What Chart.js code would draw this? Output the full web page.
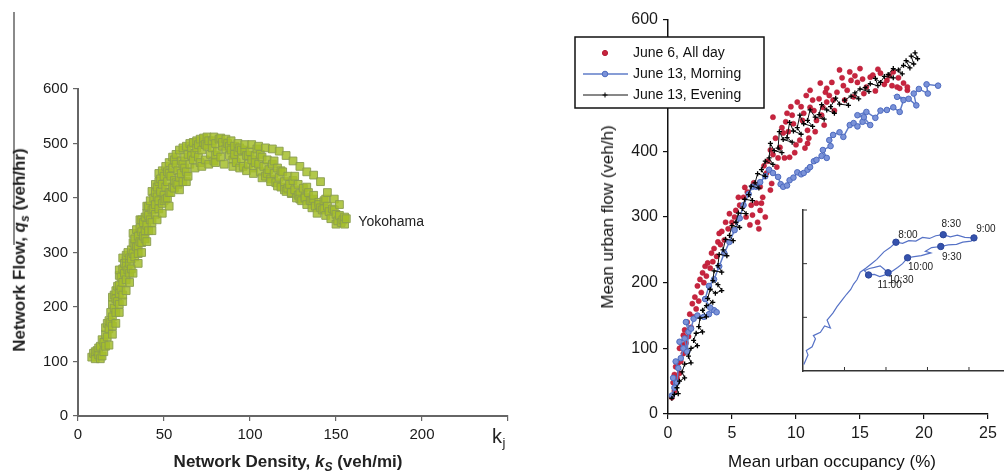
<!DOCTYPE html>
<html>
<head>
<meta charset="utf-8">
<script src="https://cdn.jsdelivr.net/npm/chart.js@4"></script>
<style>
  body { margin: 0; background: #fff; }
  #page { position: relative; width: 1008px; height: 475px; overflow: hidden;
          font-family: "Liberation Sans", Arial, sans-serif; color: #222; }
  canvas { position: absolute; }
  .ttl { position: absolute; white-space: nowrap; transform: translate(-50%, -50%); }
  .rot { transform: translate(-50%, -50%) rotate(-90deg); }
  .bold { font-weight: bold; font-size: 17px; }
  .plain { font-size: 17px; color: #111; }
  sub { font-size: 12px; }
  .edge { position: absolute; left: 13px; top: 12px; width: 2px; height: 233px; background: #8a8a8a; }
</style>
</head>
<body>
<div id="page">
  <div class="edge"></div>
  <canvas id="left" width="560" height="475" style="left:0;top:0"></canvas>
  <canvas id="right" width="448" height="475" style="left:560px;top:0"></canvas>
  <canvas id="inset" width="228" height="200" style="left:780px;top:190px"></canvas>

  <div class="ttl rot bold" style="left:21px;top:250px">Network Flow, <i>q</i><sub><i>s</i></sub> (veh/hr)</div>
  <div class="ttl bold" style="left:288px;top:463px">Network Density, <i>k</i><sub><i>S</i></sub> (veh/mi)</div>
  <div class="ttl rot plain" style="left:608px;top:217px">Mean urban flow (veh/h)</div>
  <div class="ttl plain" style="left:832px;top:462px">Mean urban occupancy (%)</div>
</div>

<script>
// ---- Yokohama network MFD: density (veh/mi), flow (veh/hr)
const yokohamaPts = [
  [8,108],[9,115],[10,105],[10,118],[11,120],[12,112],[12,125],[13,128],[13,105],[14,110],[14,140],[15,135],
  [15,118],[16,150],[16,162],[16,128],[17,145],[17,170],[18,175],[18,160],[18,130],[19,190],[19,172],[20,182],
  [20,205],[20,150],[20,165],[20,218],[21,198],[21,222],[22,215],[22,230],[22,170],[22,190],[23,210],[23,238],
  [24,240],[24,225],[24,190],[24,205],[24,258],[24,268],[25,255],[25,232],[26,245],[26,270],[26,210],[26,222],
  [26,290],[27,262],[27,280],[28,285],[28,275],[28,230],[28,250],[28,295],[29,300],[29,268],[30,290],[30,280],
  [30,245],[30,262],[31,305],[31,288],[31,270],[32,298],[32,335],[32,262],[32,318],[33,315],[33,325],[33,292],
  [34,310],[34,342],[35,330],[35,312],[35,280],[35,298],[36,320],[36,345],[36,360],[37,338],[37,360],[37,300],
  [37,318],[38,355],[38,330],[39,365],[39,340],[39,325],[40,350],[40,372],[40,320],[40,385],[41,385],[41,368],
  [41,340],[42,360],[42,395],[43,378],[43,412],[43,340],[43,355],[44,400],[44,380],[45,388],[45,410],[45,370],
  [45,425],[46,420],[46,402],[46,360],[47,395],[47,430],[47,380],[47,445],[48,412],[48,435],[49,425],[49,390],
  [49,372],[49,450],[50,440],[50,405],[50,395],[51,420],[51,398],[51,458],[52,430],[52,448],[52,400],[53,445],
  [53,410],[53,385],[53,465],[54,440],[54,410],[55,455],[55,420],[55,475],[56,432],[56,470],[56,418],[57,462],
  [57,428],[57,480],[58,450],[58,425],[59,438],[59,415],[59,488],[60,468],[60,445],[61,462],[61,430],[61,492],
  [62,475],[62,455],[63,448],[63,430],[63,495],[64,480],[64,440],[65,462],[65,500],[66,490],[66,478],[67,470],
  [67,502],[68,482],[68,455],[69,492],[69,505],[70,498],[70,475],[71,465],[71,508],[72,488],[72,458],[73,502],
  [73,510],[74,470],[74,498],[75,495],[75,512],[76,505],[76,462],[77,480],[78,492],[78,505],[79,468],[79,512],
  [80,500],[80,478],[80,465],[81,485],[82,508],[83,475],[83,510],[84,495],[84,502],[85,462],[86,490],[86,508],
  [87,500],[88,478],[88,495],[89,488],[89,505],[90,470],[90,458],[91,495],[91,480],[92,465],[93,485],[93,500],
  [94,492],[94,455],[95,472],[95,488],[96,458],[97,488],[97,498],[98,478],[98,450],[99,462],[99,478],[100,485],
  [101,470],[101,498],[102,455],[102,445],[103,478],[103,465],[104,490],[105,462],[105,495],[106,448],[106,480],
  [107,475],[107,437],[108,458],[109,440],[109,492],[110,470],[110,445],[111,452],[112,435],[112,430],[113,462],
  [113,490],[114,445],[114,468],[115,428],[116,455],[116,422],[117,438],[117,486],[118,420],[118,450],[119,448],
  [120,430],[120,415],[121,412],[121,478],[122,440],[122,418],[123,425],[124,408],[124,410],[125,432],[125,468],
  [126,415],[126,440],[127,400],[128,425],[128,405],[129,408],[129,398],[129,458],[130,395],[131,418],[132,402],
  [132,400],[133,388],[133,420],[133,448],[134,410],[135,395],[136,382],[136,395],[137,398],[137,405],[137,442],
  [138,385],[139,372],[140,392],[140,388],[141,382],[141,430],[142,378],[143,395],[143,380],[144,368],[144,398],
  [145,385],[145,410],[146,375],[147,362],[148,380],[149,378],[149,398],[150,370],[150,352],[151,358],[152,368],
  [152,388],[153,355],[154,360],[155,365],[155,352],[156,362]
];
const leftXTicks = [0, 50, 100, 150, 200, 250];
const leftYTicks = [0, 100, 200, 300, 400, 500, 600];
const jamDensityAt = 250;          // labelled k_j instead of a number
const cityName = 'Yokohama';
const cityLabelAt = [163, 355];

// ---- urban occupancy (%) vs urban flow (veh/h)
const june6All = [
  [0.3,25],[0.5,35],[0.4,48],[0.5,60],[0.7,55],[0.9,62],[0.6,72],[0.8,78],[1.0,80],[1.2,92],[0.9,100],
  [1.1,105],[1.4,108],[1.2,120],[1.3,128],[1.6,118],[1.8,132],[1.5,140],[1.7,152],[2.0,148],[2.2,160],
  [1.9,168],[2.1,178],[2.4,172],[2.6,185],[2.3,195],[2.5,205],[2.8,200],[3.0,210],[2.7,215],[2.9,225],
  [3.3,222],[3.1,230],[3.5,232],[3.8,240],[3.4,245],[3.6,252],[3.9,262],[4.1,258],[4.4,265],[4.0,275],
  [4.2,278],[4.7,282],[4.5,292],[5.0,292],[4.8,305],[5.2,300],[5.3,310],[5.6,318],[5.5,330],[5.9,330],
  [6.0,345],[6.1,300],[6.2,338],[6.4,288],[6.5,318],[6.6,303],[6.7,352],[6.9,321],[7.0,292],[7.1,282],
  [7.2,310],[7.2,346],[7.3,321],[7.4,330],[7.5,378],[7.6,300],[7.7,367],[7.8,385],[8.0,341],[8.0,402],
  [8.1,351],[8.2,395],[8.2,452],[8.4,420],[8.5,376],[8.6,390],[8.75,406],[8.9,436],[9.0,428],[9.1,390],
  [9.2,445],[9.3,458],[9.4,430],[9.5,391],[9.6,468],[9.7,455],[9.8,442],[9.9,398],[10.0,410],[10.1,475],
  [10.3,417],[10.4,468],[10.5,447],[10.6,458],[10.7,405],[10.8,485],[10.9,412],[10.9,432],[11.0,420],
  [11.1,467],[11.1,493],[11.3,478],[11.4,462],[11.5,430],[11.6,447],[11.8,480],[11.9,504],[12.0,455],
  [12.1,467],[12.2,440],[12.3,490],[12.4,496],[12.4,475],[12.6,485],[12.8,505],[12.9,478],[13.0,462],
  [13.2,490],[13.4,524],[13.6,512],[13.7,500],[13.8,478],[14.0,493],[14.2,521],[14.3,508],[14.5,483],
  [14.6,515],[14.8,505],[15.0,526],[15.2,510],[15.3,488],[15.5,498],[15.8,513],[16.0,516],[16.2,492],
  [16.4,525],[16.6,519],[16.9,502],[17.1,508],[17.3,515],[17.5,500],[17.6,521],[17.9,498],[18.0,512],
  [18.1,496],[18.4,504],[18.7,493],[18.7,498]
];
const june13Morning = [
  [0.3,28],[0.5,40],[0.4,55],[0.7,48],[0.8,70],[0.6,80],[1.0,85],[1.2,100],[0.9,110],[1.3,115],[1.5,95],
  [1.6,125],[1.4,140],[1.8,130],[2.0,145],[2.3,150],[2.8,148],[3.2,152],[3.6,158],[3.8,155],[3.3,162],
  [2.9,175],[3.2,195],[3.6,205],[4.0,225],[4.4,245],[4.8,262],[5.2,280],[5.6,298],[5.9,318],[6.3,335],
  [6.6,346],[6.9,346],[7.2,353],[7.6,362],[7.9,372],[8.2,367],[8.6,361],[8.8,350],[9.0,346],[9.3,348],
  [9.5,356],[9.8,360],[10.1,368],[10.4,365],[10.6,367],[10.9,372],[11.1,376],[11.4,385],[11.6,387],
  [12.0,393],[12.4,390],[12.1,402],[12.7,408],[12.6,417],[12.9,425],[13.4,429],[13.7,422],[14.2,440],
  [14.5,443],[14.8,438],[15.2,445],[15.8,440],[15.3,452],[14.8,455],[15.5,460],[16.2,451],[16.6,462],
  [17.1,463],[17.6,467],[18.1,460],[18.4,478],[17.9,483],[18.8,480],[19.4,470],[19.2,488],[19.6,495],
  [20.3,488],[20.2,502],[21.1,500]
];
const june13Evening = [
  [19.3,550],[19.5,541],[19.0,545],[19.2,533],[18.6,538],[18.9,527],[18.4,531],[18.0,524],[18.3,518],
  [17.6,526],[17.2,517],[17.6,512],[16.9,514],[16.6,505],[16.2,511],[16.4,500],[15.8,503],[15.4,497],
  [15.7,491],[15.0,495],[14.6,489],[14.9,480],[14.3,484],[13.8,478],[14.1,470],[13.4,472],[13.1,481],
  [12.7,468],[13.0,458],[12.4,463],[12.0,471],[11.8,456],[12.2,449],[11.5,452],[11.1,463],[10.9,447],
  [11.3,438],[10.6,442],[10.3,455],[10.1,436],[10.4,426],[9.8,431],[9.5,444],[9.3,421],[9.7,414],
  [9.0,418],[8.7,430],[8.6,405],[8.9,398],[8.3,401],[8.0,412],[7.9,390],[8.2,380],[7.6,385],[7.3,372],
  [7.6,362],[7.0,366],[6.8,352],[7.1,344],[6.5,347],[6.3,334],[6.6,325],[6.0,327],[5.8,313],[6.1,305],
  [5.5,306],[5.3,292],[5.6,284],[5.0,287],[4.8,272],[5.1,264],[4.5,266],[4.3,250],[4.6,241],[4.0,243],
  [3.9,226],[4.2,216],[3.6,218],[3.5,203],[3.9,197],[4.2,188],[3.7,184],[3.3,190],[3.1,176],[3.5,170],
  [3.0,165],[2.7,158],[3.0,148],[2.5,146],[2.4,133],[2.7,125],[2.2,123],[2.0,112],[2.3,104],[1.8,100],
  [1.6,88],[1.8,78],[1.3,76],[1.1,64],[1.3,55],[0.9,50],[0.7,40],[0.8,31],[0.5,30],[0.3,24]
];
const rightXTicks = [0, 5, 10, 15, 20, 25];
const rightYTicks = [0, 100, 200, 300, 400, 500, 600];

// ---- inset: June 13 morning trajectory with clock times
const insetPath = [
  [0.02,0.12],[0.12,0.3],[0.08,0.38],[0.22,0.45],[0.3,0.6],[0.25,0.66],[0.42,0.72],[0.52,0.84],[0.66,0.8],
  [0.58,0.95],[0.72,1.08],[0.82,1.2],[0.95,1.33],[1.05,1.43],[1.15,1.52],[1.22,1.62],[1.3,1.7],[1.38,1.84],
  [1.52,1.92],[1.65,2.0],[1.78,2.08],[1.95,2.22],[2.1,2.3],[2.24,2.4],[2.4,2.38],[2.55,2.43],[2.72,2.42],
  [2.88,2.49],[3.05,2.47],[3.2,2.52],[3.38,2.54],[3.55,2.5],[3.72,2.53],[3.9,2.49],[4.12,2.48],[4.05,2.42],
  [3.85,2.4],[3.7,2.36],[3.5,2.35],[3.32,2.32],[3.1,2.3],[2.95,2.23],[3.08,2.2],[2.85,2.15],[2.68,2.13],
  [2.52,2.11],[2.4,2.0],[2.28,1.93],[2.15,1.86],[2.05,1.83],[1.95,1.9],[1.86,1.96],[1.72,1.93],[1.6,1.91],
  [1.48,1.87],[1.58,1.79],[1.72,1.8],[1.85,1.76],[1.98,1.79]
];
const insetTimes = ['8:00', '8:30', '9:00', '9:30', '10:00', '10:30', '11:00'];
const insetTimePts = [[2.24,2.4],[3.38,2.54],[4.12,2.48],[3.32,2.32],[2.52,2.11],[2.05,1.83],[1.58,1.79]];

const FONT = '"Liberation Sans", Arial, sans-serif';
const toXY = pts => pts.map(p => ({ x: p[0], y: p[1] }));
const fixedTicks = arr => scale => { scale.ticks = arr.map(v => ({ value: v })); };

// axis with outside tick marks only
function axis(min, max, ticksArr, color, bw, size, extra) {
  return Object.assign({
    type: 'linear', min: min, max: max,
    afterBuildTicks: fixedTicks(ticksArr),
    grid: { drawOnChartArea: false, drawTicks: true, tickLength: 5, color: color, lineWidth: 1.2 },
    border: { display: true, color: color, width: bw },
    ticks: { font: { family: FONT, size: size }, color: '#1a1a1a', padding: 5, autoSkip: false, maxRotation: 0 }
  }, extra);
}

// "Yokohama" tag and the k_j mark at the end of the density axis
const leftNotes = {
  id: 'leftNotes',
  afterDraw(chart) {
    const { ctx, scales: { x, y } } = chart;
    ctx.save();
    ctx.fillStyle = '#222';
    ctx.textBaseline = 'middle';
    ctx.font = '14px ' + FONT;
    ctx.fillText(cityName, x.getPixelForValue(cityLabelAt[0]), y.getPixelForValue(cityLabelAt[1]));
    const kx = x.getPixelForValue(jamDensityAt);
    ctx.textAlign = 'center';
    ctx.font = '20px ' + FONT;
    ctx.fillText('k', kx - 11, y.bottom + 21);
    ctx.font = '13px ' + FONT;
    ctx.fillText('j', kx - 4, y.bottom + 27);
    ctx.restore();
  }
};

new Chart(document.getElementById('left'), {
  type: 'scatter',
  data: {
    datasets: [{
      label: cityName,
      data: toXY(yokohamaPts),
      pointStyle: 'rect',
      pointRadius: 5.5,
      backgroundColor: 'rgba(164,190,44,0.85)',
      borderColor: 'rgba(138,156,80,0.9)',
      borderWidth: 1
    }]
  },
  options: {
    responsive: false,
    animation: false,
    layout: { padding: { top: 89, right: 52, bottom: 0, left: 0 } },
    plugins: { legend: { display: false }, tooltip: { enabled: false } },
    scales: {
      x: axis(0, 250, leftXTicks, '#666', 2, 15, {
        afterFit: s => { s.height = 59; },
        ticks: { font: { family: FONT, size: 15 }, color: '#1a1a1a', padding: 5, maxRotation: 0,
                 callback: v => (v === jamDensityAt ? '' : v) }
      }),
      y: axis(0, 600, leftYTicks, '#666', 2, 15, { afterFit: s => { s.width = 78; } })
    }
  },
  plugins: [leftNotes]
});

// boxed legend sitting over the flow axis
const boxLegend = {
  id: 'boxLegend',
  afterDraw(chart) {
    const ctx = chart.ctx;
    const left = 15, top = 37, w = 189, h = 71, rowH = 21;
    ctx.save();
    ctx.fillStyle = '#fff';
    ctx.fillRect(left, top, w, h);
    ctx.strokeStyle = '#111';
    ctx.lineWidth = 1.5;
    ctx.strokeRect(left, top, w, h);
    ctx.font = '14px ' + FONT;
    ctx.textBaseline = 'middle';
    chart.data.datasets.forEach((ds, i) => {
      const cy = top + 16 + i * rowH, cx = left + 30;
      if (ds.showLine) {
        ctx.strokeStyle = ds.borderColor;
        ctx.lineWidth = ds.borderWidth;
        ctx.beginPath(); ctx.moveTo(left + 8, cy); ctx.lineTo(left + 53, cy); ctx.stroke();
      }
      ctx.fillStyle = ds.pointBackgroundColor || ds.backgroundColor;
      ctx.strokeStyle = ds.pointBorderColor || ds.borderColor;
      ctx.lineWidth = 1;
      Chart.helpers.drawPoint(ctx, { pointStyle: ds.pointStyle || 'circle', radius: ds.pointRadius, borderWidth: 1, rotation: 0 }, cx, cy);
      ctx.fillStyle = '#111';
      ctx.fillText(ds.label, left + 58, cy);
    });
    ctx.restore();
  }
};

new Chart(document.getElementById('right'), {
  type: 'scatter',
  data: {
    datasets: [{
      label: 'June 6, All day',
      data: toXY(june6All),
      pointRadius: 2.6,
      backgroundColor: '#c8243e',
      borderColor: '#b31d37',
      borderWidth: 0.5,
      order: 3
    }, {
      label: 'June 13, Morning',
      data: toXY(june13Morning),
      showLine: true,
      borderColor: '#5f7cc9',
      borderWidth: 1.5,
      pointRadius: 2.8,
      pointBackgroundColor: '#7a92d8',
      pointBorderColor: '#4e6bbf',
      pointBorderWidth: 1,
      order: 2
    }, {
      label: 'June 13, Evening',
      data: toXY(june13Evening),
      showLine: true,
      borderColor: '#111',
      borderWidth: 1,
      pointStyle: 'cross',
      pointRadius: 2.5,
      pointBorderColor: '#000',
      pointBackgroundColor: '#000',
      pointBorderWidth: 1.3,
      order: 1
    }]
  },
  options: {
    responsive: false,
    animation: false,
    layout: { padding: { top: 20, right: 20, bottom: 0, left: 0 } },
    plugins: { legend: { display: false }, tooltip: { enabled: false } },
    scales: {
      x: axis(0, 25, rightXTicks, '#111', 1.5, 16, { afterFit: s => { s.height = 61; } }),
      y: axis(0, 600, rightYTicks, '#111', 1.5, 16, { afterFit: s => { s.width = 108; } })
    }
  },
  plugins: [boxLegend]
});

// inset: inward tick marks and the clock labels
const insetMarks = {
  id: 'insetMarks',
  afterDraw(chart) {
    const { ctx, scales: { x, y } } = chart;
    ctx.save();
    ctx.strokeStyle = '#333';
    ctx.lineWidth = 1;
    x.ticks.forEach(t => {
      if (t.value === 0) return;
      const px = x.getPixelForValue(t.value);
      ctx.beginPath(); ctx.moveTo(px, y.bottom); ctx.lineTo(px, y.bottom - 4); ctx.stroke();
    });
    y.ticks.forEach(t => {
      if (t.value === 0) return;
      const py = y.getPixelForValue(t.value);
      ctx.beginPath(); ctx.moveTo(x.left, py); ctx.lineTo(x.left + 4, py); ctx.stroke();
    });
    const offsets = [[12, -7], [8, -10], [12, -9], [11, 11], [13, 9], [13, 7], [21, 10]];
    ctx.font = '10px "Liberation Sans Narrow", "Liberation Sans", Arial, sans-serif';
    ctx.fillStyle = '#222';
    ctx.textAlign = 'center';
    ctx.textBaseline = 'middle';
    insetTimes.forEach((t, i) => {
      const p = insetTimePts[i];
      ctx.fillText(t, x.getPixelForValue(p[0]) + offsets[i][0], y.getPixelForValue(p[1]) + offsets[i][1]);
    });
    ctx.restore();
  }
};

new Chart(document.getElementById('inset'), {
  type: 'scatter',
  data: {
    datasets: [{
      data: toXY(insetTimePts),
      pointRadius: 3.2,
      backgroundColor: '#3552ad',
      borderColor: '#2c4699',
      borderWidth: 1
    }, {
      data: toXY(insetPath),
      showLine: true,
      borderColor: '#5672c6',
      borderWidth: 1.2,
      pointRadius: 0
    }]
  },
  options: {
    responsive: false,
    animation: false,
    layout: { padding: { top: 20, right: 0, bottom: 0, left: 0 } },
    plugins: { legend: { display: false }, tooltip: { enabled: false } },
    scales: {
      x: { type: 'linear', min: 0, max: 4.82, afterFit: s => { s.height = 19; },
           ticks: { display: false, stepSize: 1, includeBounds: false },
           grid: { display: false }, border: { display: true, color: '#333', width: 1.5 } },
      y: { type: 'linear', min: 0, max: 3, afterFit: s => { s.width = 23; },
           ticks: { display: false, stepSize: 1, includeBounds: false },
           grid: { display: false }, border: { display: true, color: '#333', width: 1.5 } }
    }
  },
  plugins: [insetMarks]
});
</script>
</body>
</html>
